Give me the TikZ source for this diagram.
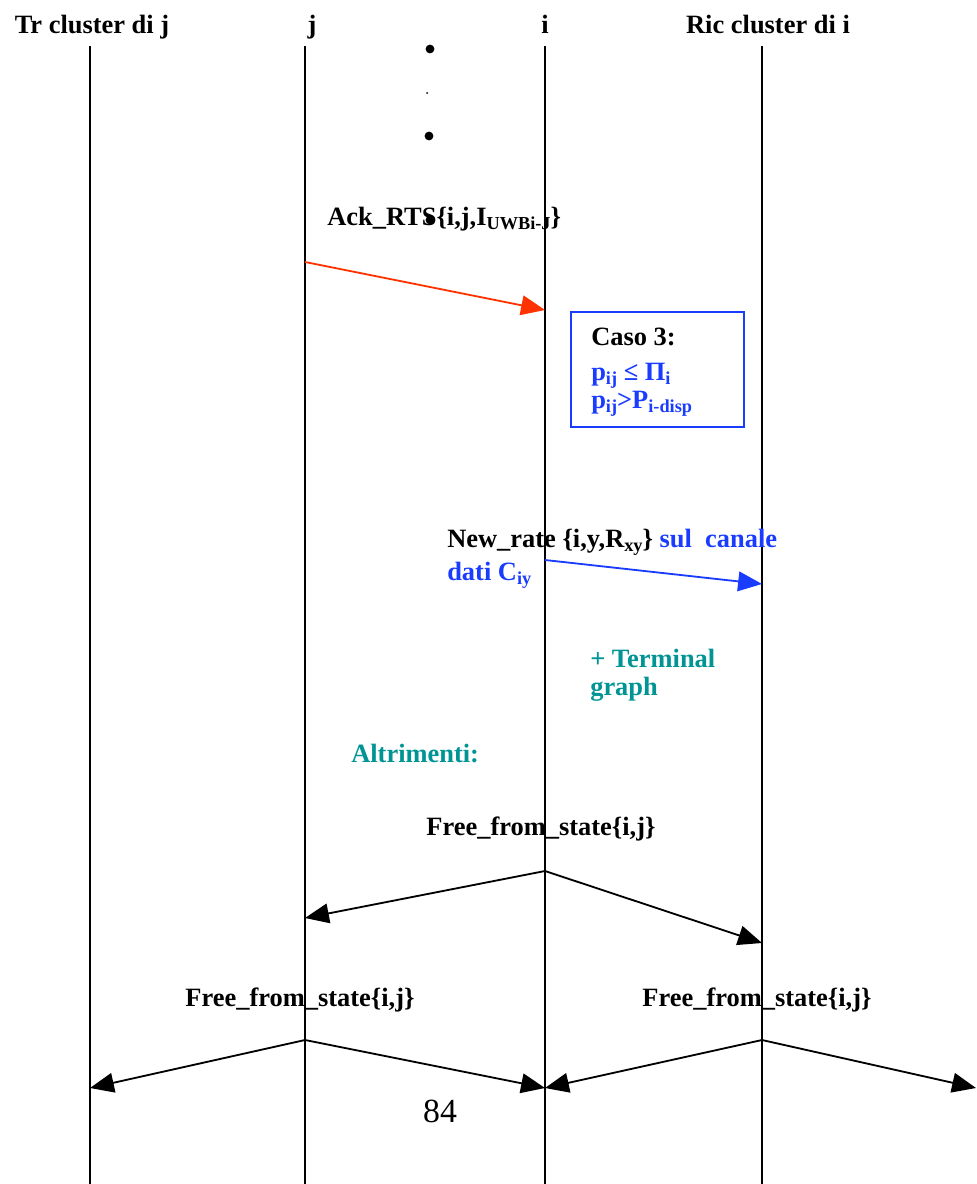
\documentclass[tikz,border=0pt]{standalone}
\usepackage{fontspec}
\setmainfont{Liberation Serif}
\usetikzlibrary{arrows.meta,positioning}
\definecolor{msgred}{HTML}{FF3300}
\definecolor{msgblue}{HTML}{1A3CFF}
\definecolor{noteteal}{HTML}{009494}
\newcommand{\lowsub}[1]{\raisebox{-0.35ex}{\fontsize{13}{15}\selectfont #1}}

\begin{document}
\begin{tikzpicture}[
    x=0.025cm, y=-0.025cm,
    font=\fontsize{18.8}{22}\selectfont\bfseries,
    every node/.style={inner sep=0pt},
    lifeline/.style={line width=1.3pt},
    msg/.style={-{Triangle[length=17pt,width=14pt]}, line width=1.3pt},
    head/.style={anchor=base},
    lbl/.style={anchor=base west},
    note/.style={lbl, text=noteteal},
    casebox/.style={draw=msgblue, line width=1.4pt, anchor=north west,
        minimum width=4.325cm, minimum height=2.875cm},
    bigdot/.style={circle, fill=black, minimum size=0.22cm},
    smalldot/.style={circle, fill=black, minimum size=0.05cm},
]
\useasboundingbox (0,0) rectangle (976,1184);

% =============================================================
% LIFELINES
% =============================================================
\node[head] (hTr)  at (92,33)  {Tr cluster di j};
\node[head] (hJ)   at (312,33) {j};
\node[head] (hI)   at (545,33) {i};
\node[head] (hRic) at (768,33) {Ric cluster di i};

\foreach \n/\x in {tr/90, j/305, i/545, ric/762} {
    \coordinate (\n top) at (\x,46);
    \coordinate (\n bot) at (\x,1184);
    \draw[lifeline] (\n top) -- (\n bot);
}

% dots
\node[bigdot]   (d1) at (430,49)  {};
\node[smalldot] (d2) at (427,93)  {};
\node[bigdot]   (d3) at (429,136) {};
\node[bigdot]   (d4) at (430,220) {};

% =============================================================
% ACK_RTS
% =============================================================
\node[lbl] (ack) at (327,225) {Ack\_RTS\{i,j,I\lowsub{UWBi-J}\}};
\coordinate (ackS) at (305,262);
\coordinate (ackE) at (545,310);
\draw[msg, color=msgred] (ackS) -- (ackE);

\node[casebox] (caso) at (570,311) {};
\node[lbl] (c1) at (591,345) {Caso 3:};
\node[lbl, text=msgblue] (c2) at (591,380) {p\lowsub{ij} ≤ Π\lowsub{i}};
\node[lbl, text=msgblue] (c3) at (591,408) {p\lowsub{ij}>P\lowsub{i-disp}};

% =============================================================
% NEW_RATE
% =============================================================
\node[lbl] (nr) at (447,547) {New\_rate \{i,y,R\lowsub{xy}\} \textcolor{msgblue}{sul~~canale}};
\node[lbl, text=msgblue] (nr2) at (447,580) {dati C\lowsub{iy}};
\coordinate (nrS) at (545,560);
\coordinate (nrE) at (762,584);
\draw[msg, color=msgblue] (nrS) -- (nrE);

\node[note] (tg1) at (590,667) {+ Terminal};
\node[note] (tg2) at (590,695) {graph};
\node[note] (alt) at (351,762) {Altrimenti:};

% =============================================================
% FREE_FROM_STATE
% =============================================================
\node[head] (ff1) at (541,835) {Free\_from\_state\{i,j\}};
\coordinate (ff1S) at (545,871);
\coordinate (ff1L) at (305,918);
\coordinate (ff1R) at (762,943);
\draw[msg] (ff1S) -- (ff1L);
\draw[msg] (ff1S) -- (ff1R);

\node[head] (ff2) at (300,1006) {Free\_from\_state\{i,j\}};
\coordinate (ff2S) at (305,1040);
\coordinate (ff2L) at (90,1088);
\coordinate (ff2R) at (545,1088);
\draw[msg] (ff2S) -- (ff2L);
\draw[msg] (ff2S) -- (ff2R);

\node[head] (ff3) at (757,1006) {Free\_from\_state\{i,j\}};
\coordinate (ff3S) at (762,1040);
\coordinate (ff3L) at (545,1088);
\coordinate (ff3R) at (976,1088);
\draw[msg] (ff3S) -- (ff3L);
\draw[msg] (ff3S) -- (ff3R);

\node[head, font=\fontsize{24}{28}\selectfont] (pg) at (440,1122) {84};

\end{tikzpicture}
\end{document}
